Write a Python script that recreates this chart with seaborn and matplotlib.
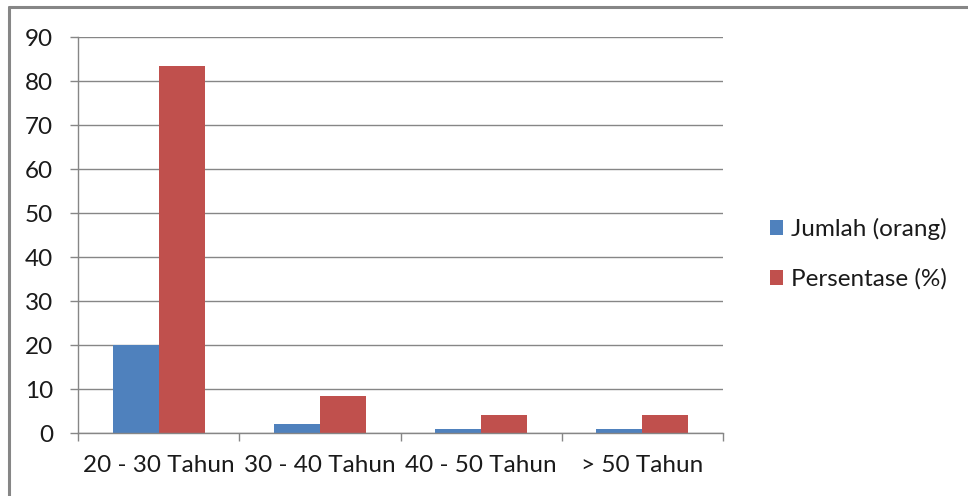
import matplotlib
matplotlib.use("Agg")
import matplotlib.pyplot as plt
from matplotlib.lines import Line2D
import seaborn as sns
import pandas as pd

categories = ["20 - 30 Tahun", "30 - 40 Tahun", "40 - 50 Tahun", "> 50 Tahun"]
jumlah = [20, 2, 1, 1]
persentase = [83.33, 8.33, 4.17, 4.17]
series_names = ["Jumlah (orang)", "Persentase (%)"]
y_ticks = [0, 10, 20, 30, 40, 50, 60, 70, 80, 90]

df = pd.DataFrame({
    "kategori": categories * 2,
    "seri": [series_names[0]] * len(categories) + [series_names[1]] * len(categories),
    "nilai": jumlah + persentase,
})

sns.set_theme(style="white")
plt.rcParams["font.family"] = ["Lato", "DejaVu Sans"]

grid_c = "#868686"
text_c = "#1a1a1a"
fs = 17.5
fig = plt.figure(figsize=(9.68, 4.96), dpi=100)
ax = fig.add_axes([78 / 968, (496 - 433) / 496, (723 - 78) / 968, (433 - 37) / 496])

sns.barplot(data=df, x="kategori", y="nilai", hue="seri", order=categories,
            hue_order=series_names, palette=["#4F81BD", "#C0504D"],
            width=0.57, dodge=True, saturation=1, linewidth=0, ax=ax, legend=True)

ax.set_ylim(0, 90)
ax.set_xlim(-0.5, len(categories) - 0.5)
ax.set_yticks(y_ticks)
ax.set_yticklabels([str(t) for t in y_ticks])
ax.yaxis.grid(True, color=grid_c, linewidth=1)
ax.set_axisbelow(True)
ax.set_xlabel("")
ax.set_ylabel("")

# category-boundary ticks on x axis
ax.set_xticks(range(len(categories)))
ax.set_xticklabels(categories)
ax.set_xticks([i - 0.5 for i in range(len(categories) + 1)], minor=True)
ax.tick_params(axis="x", which="major", length=0, pad=16, labelsize=fs, labelcolor=text_c)
ax.tick_params(axis="x", which="minor", bottom=True, length=6, width=1, color=grid_c)
ax.tick_params(axis="y", left=True, length=6, width=1, color=grid_c, pad=12,
               labelsize=fs, labelcolor=text_c)

for s in ["top", "right"]:
    ax.spines[s].set_visible(False)
for s in ["left", "bottom"]:
    ax.spines[s].set_color(grid_c)
    ax.spines[s].set_linewidth(1)

handles, labels = ax.get_legend_handles_labels()
ax.legend_.remove()
fig.legend(handles, labels, loc="center left", bbox_to_anchor=(748 / 968, 1 - 254 / 496),
           frameon=False, fontsize=fs, handlelength=0.55, handleheight=0.55,
           handletextpad=0.32, labelspacing=1.15, labelcolor=text_c)

# chart frame
fig.add_artist(Line2D([9 / 968, 1.0], [1 - 7 / 496, 1 - 7 / 496], color=grid_c, linewidth=2.2,
                      transform=fig.transFigure))
fig.add_artist(Line2D([9 / 968, 9 / 968], [0.0, 1 - 7 / 496], color=grid_c, linewidth=2.2,
                      transform=fig.transFigure))

fig.savefig("out.png", dpi=100, facecolor="white")
